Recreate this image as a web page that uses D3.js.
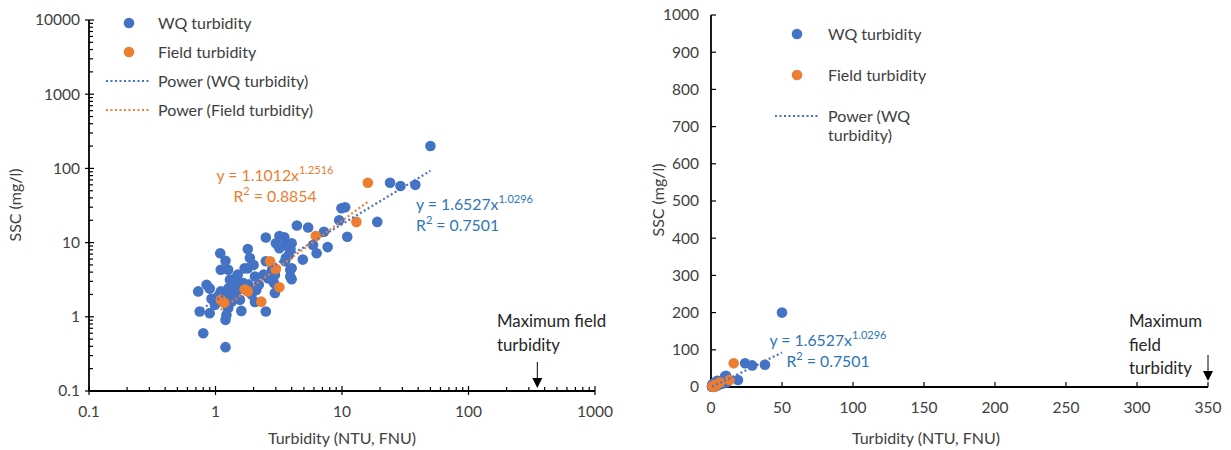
<!DOCTYPE html>
<html>
<head>
<meta charset="utf-8">
<script src="https://cdn.jsdelivr.net/npm/d3@7"></script>
<style>
  body { margin: 0; background: #fff; }
  text { font-family: Lato, "Open Sans", sans-serif; fill: #404040; }
</style>
</head>
<body>
<div id="chart"></div>
<script>
// WQ turbidity samples (turbidity NTU, SSC mg/l)
var wqTurb = [50, 24, 29, 38, 19, 9.9, 10.6, 9.5, 11, 7.2, 7.7, 4.4, 5.4, 5.9, 6.3, 4.9,
    3.2, 3.5, 3.0, 4.0, 3.9, 3.6, 3.9, 4.0, 2.95, 2.5, 1.8, 1.09, 1.2, 1.1, 1.26, 1.8,
    2.0, 2.5, 0.73, 0.85, 0.9, 0.75, 0.9, 1.2, 0.8, 1.2, 1.6, 2.5, 0.93, 1.05, 1.26, 1.22,
    2.05, 1.26, 1.43, 1.34, 1.5, 1.66, 1.43, 1.3, 1.93, 2.1, 1.82, 2.2, 2.6, 2.9, 2.95, 2.8,
    2.4, 2.05, 3.8, 3.55, 3.9, 3.55, 3.2, 1.87, 1.7, 1.5, 4.0, 1.1, 0.99, 1.43, 1.56, 1.34,
    1.19, 3.9];
var wqSSC = [200, 64, 58, 60, 19, 29, 30, 20, 12, 14, 8.7, 17, 16, 9.3, 7.2, 5.9,
    12.3, 11.8, 9.8, 9.8, 8, 6.2, 4.3, 3.2, 2.1, 11.7, 8.2, 7.2, 5.7, 4.3, 4.3, 4.5,
    5.0, 5.6, 2.2, 2.7, 2.4, 1.18, 1.12, 0.91, 0.6, 0.39, 1.2, 1.18, 1.75, 1.9, 1.3, 1.06,
    1.58, 2.4, 2.7, 2.2, 2.3, 2.85, 3.3, 3.15, 2.0, 2.3, 2.7, 2.7, 3.3, 2.85, 3.7, 4.3,
    3.7, 3.5, 6.8, 5.6, 8.4, 9.3, 8.4, 6.2, 4.5, 3.7, 4.5, 2.2, 1.45, 1.8, 1.7, 1.6,
    1.88, 3.5];

// Field turbidity samples (FNU, mg/l)
var fieldTurb = [16, 13, 6.2, 2.7, 3.0, 3.2, 1.7, 1.8, 2.3, 1.1, 1.17];
var fieldSSC  = [64, 19, 12.3, 5.6, 4.4, 2.5, 2.35, 2.2, 1.6, 1.7, 1.55];

// power fits shown on the chart: [a, b, R2]
var wqFit = [1.6527, 1.0296, "0.7501"];
var fieldFit = [1.1012, 1.2516, "0.8854"];

var maxFieldTurbidity = 350;

var logXTicks = [0.1, 1, 10, 100, 1000];
var logYTicks = [0.1, 1, 10, 100, 1000, 10000];
var linXTicks = [0, 50, 100, 150, 200, 250, 300, 350];
var linYTicks = [0, 100, 200, 300, 400, 500, 600, 700, 800, 900, 1000];

var blue = "#4472C4", orange = "#ED7D31", eqBlue = "#2E75B6";

var svg = d3.select("#chart").append("svg")
    .attr("width", 1231)
    .attr("height", 450);

var wq = wqTurb.map(function(d, i) { return {x: d, y: wqSSC[i]}; });
var field = fieldTurb.map(function(d, i) { return {x: d, y: fieldSSC[i]}; });

function fitLine(fit, pts) {
    var ext = d3.extent(pts, function(d) { return d.x; });
    return d3.range(0, 61).map(function(i) {
        var x = ext[0] * Math.pow(ext[1] / ext[0], i / 60);
        return {x: x, y: fit[0] * Math.pow(x, fit[1])};
    });
}

function equation(g, x, y, fit, color, anchor) {
    var t = g.append("text")
        .attr("x", x).attr("y", y)
        .attr("text-anchor", anchor)
        .style("fill", color)
        .style("font-size", "15.8px");
    t.append("tspan").text("y = " + fit[0].toFixed(4) + "x");
    t.append("tspan").attr("dy", -7).style("font-size", "11px").text(fit[1].toFixed(4));
    var r = g.append("text")
        .attr("x", x).attr("y", y + 21)
        .attr("text-anchor", anchor)
        .style("fill", color)
        .style("font-size", "15.8px");
    r.append("tspan").text("R");
    r.append("tspan").attr("dy", -7).style("font-size", "11px").text("2");
    r.append("tspan").attr("dy", 7).text(" = " + fit[2]);
}

function arrowNote(g, x, lines, tx, ty, y1, y2) {
    g.append("line")
        .attr("x1", x).attr("x2", x)
        .attr("y1", y1).attr("y2", y2 - 8)
        .style("stroke", "#000").style("stroke-width", 1);
    g.append("path")
        .attr("d", "M" + (x - 5) + "," + (y2 - 10) + "L" + (x + 5) + "," + (y2 - 10) + "L" + x + "," + y2 + "Z")
        .style("fill", "#000");
    lines.forEach(function(s, i) {
        g.append("text")
            .attr("x", tx).attr("y", ty + i * 23.5)
            .style("font-size", "16.8px")
            .style("fill", "#262626")
            .text(s);
    });
}

// ---------------- left: log-log ----------------
var L = {left: 89, right: 595, top: 20, bottom: 391};

var xl = d3.scaleLog().domain([0.1, 1000]).range([L.left, L.right]);
var yl = d3.scaleLog().domain([0.1, 10000]).range([L.bottom, L.top]);

var left = svg.append("g");

// minor ticks
var minorX = [], minorY = [];
[0.1, 1, 10, 100].forEach(function(d) {
    for (var k = 2; k <= 9; k++) minorX.push(d * k);
});
[0.1, 1, 10, 100, 1000].forEach(function(d) {
    for (var k = 2; k <= 9; k++) minorY.push(d * k);
});

left.selectAll(".mx").data(minorX).enter().append("line")
    .attr("x1", function(d) { return xl(d); }).attr("x2", function(d) { return xl(d); })
    .attr("y1", L.bottom).attr("y2", L.bottom - 4)
    .style("stroke", "#000").style("stroke-width", 1.2);
left.selectAll(".my").data(minorY).enter().append("line")
    .attr("y1", function(d) { return yl(d); }).attr("y2", function(d) { return yl(d); })
    .attr("x1", L.left).attr("x2", L.left + 4)
    .style("stroke", "#000").style("stroke-width", 1.2);

left.selectAll(".Mx").data(logXTicks).enter().append("line")
    .attr("x1", function(d) { return xl(d); }).attr("x2", function(d) { return xl(d); })
    .attr("y1", L.bottom + 4).attr("y2", L.bottom - 5)
    .style("stroke", "#000").style("stroke-width", 1.2);
left.selectAll(".My").data(logYTicks).enter().append("line")
    .attr("y1", function(d) { return yl(d); }).attr("y2", function(d) { return yl(d); })
    .attr("x1", L.left - 4).attr("x2", L.left + 5)
    .style("stroke", "#000").style("stroke-width", 1.2);

left.append("line").attr("x1", L.left).attr("x2", L.right).attr("y1", L.bottom).attr("y2", L.bottom)
    .style("stroke", "#000").style("stroke-width", 1.8);
left.append("line").attr("x1", L.left).attr("x2", L.left).attr("y1", L.top).attr("y2", L.bottom)
    .style("stroke", "#000").style("stroke-width", 1.8);

left.selectAll(".xlab").data(logXTicks).enter().append("text")
    .attr("x", function(d) { return xl(d); })
    .attr("y", L.bottom + 21)
    .attr("dy", ".35em")
    .attr("text-anchor", "middle")
    .style("font-size", "15.5px")
    .text(function(d) { return d; });
left.selectAll(".ylab").data(logYTicks).enter().append("text")
    .attr("x", L.left - 9)
    .attr("y", function(d) { return yl(d); })
    .attr("dy", ".35em")
    .attr("text-anchor", "end")
    .style("font-size", "15.5px")
    .text(function(d) { return d; });

left.append("text")
    .attr("x", 342).attr("y", 438).attr("dy", ".35em")
    .attr("text-anchor", "middle").style("font-size", "16px")
    .text("Turbidity (NTU, FNU)");
left.append("text")
    .attr("transform", "translate(15,205) rotate(-90)")
    .attr("dy", ".35em")
    .attr("text-anchor", "middle").style("font-size", "16px")
    .text("SSC (mg/l)");

var lineL = d3.line()
    .x(function(d) { return xl(d.x); })
    .y(function(d) { return yl(d.y); });

left.selectAll(".wq").data(wq).enter().append("circle")
    .attr("cx", function(d) { return xl(d.x); })
    .attr("cy", function(d) { return yl(d.y); })
    .attr("r", 5.3)
    .style("fill", blue);
left.selectAll(".fd").data(field).enter().append("circle")
    .attr("cx", function(d) { return xl(d.x); })
    .attr("cy", function(d) { return yl(d.y); })
    .attr("r", 5.3)
    .style("fill", orange);

left.append("path").datum(fitLine(wqFit, wq))
    .attr("d", lineL)
    .style("fill", "none").style("stroke", blue)
    .style("stroke-width", 2.2).style("stroke-dasharray", "2,2.5");
left.append("path").datum(fitLine(fieldFit, field))
    .attr("d", lineL)
    .style("fill", "none").style("stroke", orange)
    .style("stroke-width", 2.2).style("stroke-dasharray", "2,2.5");

equation(left, 275, 181, fieldFit, orange, "middle");
equation(left, 416, 210, wqFit, eqBlue, "start");

arrowNote(left, xl(maxFieldTurbidity), ["Maximum field", "turbidity"], 497, 327, 362, 388);

// legend
var legL = [
    {t: "WQ turbidity", c: blue, k: "dot"},
    {t: "Field turbidity", c: orange, k: "dot"},
    {t: "Power (WQ turbidity)", c: blue, k: "line"},
    {t: "Power (Field turbidity)", c: orange, k: "line"}
];
var lg = left.selectAll(".legend").data(legL).enter().append("g")
    .attr("transform", function(d, i) { return "translate(0," + (23 + i * 29) + ")"; });
lg.filter(function(d) { return d.k === "dot"; }).append("circle")
    .attr("cx", 129).attr("cy", 0).attr("r", 5.3)
    .style("fill", function(d) { return d.c; });
lg.filter(function(d) { return d.k === "line"; }).append("line")
    .attr("x1", 106).attr("x2", 150)
    .style("stroke", function(d) { return d.c; })
    .style("stroke-width", 2.2).style("stroke-dasharray", "2,2.5");
lg.append("text")
    .attr("x", 158).attr("dy", ".35em")
    .style("font-size", "16px")
    .text(function(d) { return d.t; });

// ---------------- right: linear ----------------
var R = {left: 711, right: 1208, top: 15, bottom: 387};

var xr = d3.scaleLinear().domain([0, 350]).range([R.left, R.right]);
var yr = d3.scaleLinear().domain([0, 1000]).range([R.bottom, R.top]);

var right = svg.append("g");

right.selectAll(".tx").data(linXTicks).enter().append("line")
    .attr("x1", function(d) { return xr(d); }).attr("x2", function(d) { return xr(d); })
    .attr("y1", R.bottom).attr("y2", R.bottom - 5)
    .style("stroke", "#000").style("stroke-width", 1.2);
right.selectAll(".ty").data(linYTicks).enter().append("line")
    .attr("y1", function(d) { return yr(d); }).attr("y2", function(d) { return yr(d); })
    .attr("x1", R.left).attr("x2", R.left + 5)
    .style("stroke", "#000").style("stroke-width", 1.2);

right.append("line").attr("x1", R.left).attr("x2", R.right).attr("y1", R.bottom).attr("y2", R.bottom)
    .style("stroke", "#000").style("stroke-width", 1.8);
right.append("line").attr("x1", R.left).attr("x2", R.left).attr("y1", R.top).attr("y2", R.bottom)
    .style("stroke", "#000").style("stroke-width", 1.8);

right.selectAll(".xlab").data(linXTicks).enter().append("text")
    .attr("x", function(d) { return xr(d); })
    .attr("y", R.bottom + 21)
    .attr("dy", ".35em")
    .attr("text-anchor", "middle")
    .style("font-size", "15.5px")
    .text(function(d) { return d; });
right.selectAll(".ylab").data(linYTicks).enter().append("text")
    .attr("x", R.left - 12)
    .attr("y", function(d) { return yr(d); })
    .attr("dy", ".35em")
    .attr("text-anchor", "end")
    .style("font-size", "15.5px")
    .text(function(d) { return d; });

right.append("text")
    .attr("x", 926).attr("y", 438).attr("dy", ".35em")
    .attr("text-anchor", "middle").style("font-size", "16px")
    .text("Turbidity (NTU, FNU)");
right.append("text")
    .attr("transform", "translate(658,200) rotate(-90)")
    .attr("dy", ".35em")
    .attr("text-anchor", "middle").style("font-size", "16px")
    .text("SSC (mg/l)");

var lineR = d3.line()
    .x(function(d) { return xr(d.x); })
    .y(function(d) { return yr(d.y); });

right.selectAll(".wq").data(wq).enter().append("circle")
    .attr("cx", function(d) { return xr(d.x); })
    .attr("cy", function(d) { return yr(d.y); })
    .attr("r", 5.3)
    .style("fill", blue);
right.selectAll(".fd").data(field).enter().append("circle")
    .attr("cx", function(d) { return xr(d.x); })
    .attr("cy", function(d) { return yr(d.y); })
    .attr("r", 5.3)
    .style("fill", orange);

right.append("path").datum(fitLine(wqFit, wq))
    .attr("d", lineR)
    .style("fill", "none").style("stroke", blue)
    .style("stroke-width", 2.2).style("stroke-dasharray", "2,2.5");

equation(right, 828, 346, wqFit, eqBlue, "middle");

arrowNote(right, xr(maxFieldTurbidity), ["Maximum", "field", "turbidity"], 1129, 327, 355, 381);

var legR = [
    {t: ["WQ turbidity"], c: blue, k: "dot"},
    {t: ["Field turbidity"], c: orange, k: "dot"},
    {t: ["Power (WQ", "turbidity)"], c: blue, k: "line"}
];
var rg = right.selectAll(".legend").data(legR).enter().append("g")
    .attr("transform", function(d, i) { return "translate(0," + (34 + i * 41) + ")"; });
rg.filter(function(d) { return d.k === "dot"; }).append("circle")
    .attr("cx", 797).attr("cy", 0).attr("r", 5.3)
    .style("fill", function(d) { return d.c; });
rg.filter(function(d) { return d.k === "line"; }).append("line")
    .attr("x1", 775).attr("x2", 820)
    .style("stroke", function(d) { return d.c; })
    .style("stroke-width", 2.2).style("stroke-dasharray", "2,2.5");
rg.each(function(d) {
    var g = d3.select(this);
    d.t.forEach(function(s, i) {
        g.append("text")
            .attr("x", 828).attr("y", i * 19).attr("dy", ".35em")
            .style("font-size", "16px")
            .text(s);
    });
});
</script>
</body>
</html>
